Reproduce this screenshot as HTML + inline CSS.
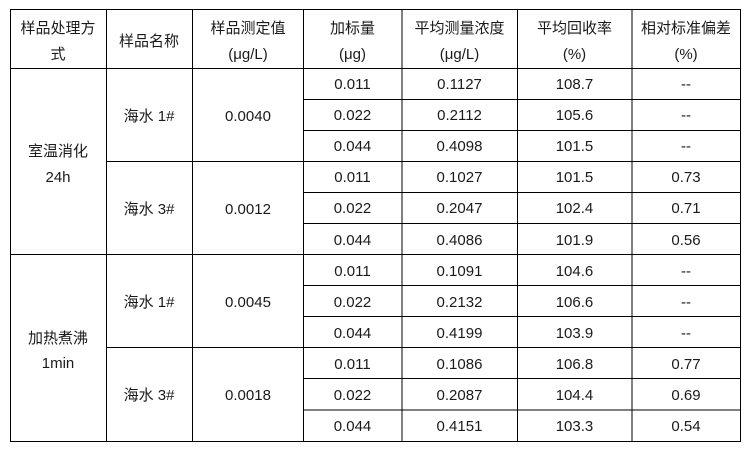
<!DOCTYPE html>
<html><head><meta charset="utf-8"><style>
html,body{margin:0;padding:0;background:#fff;width:755px;height:452px;overflow:hidden}
svg{display:block}
text{font-family:"Liberation Sans","Noto Sans CJK SC",sans-serif;font-size:15px;fill:#1a1a1a;text-anchor:middle}
</style></head><body>
<svg width="755" height="452" viewBox="0 0 755 452" xmlns="http://www.w3.org/2000/svg">
<g stroke="#000" stroke-width="1.2" fill="none" shape-rendering="crispEdges">
<rect x="10.5" y="9.5" width="730" height="432"/>
<line x1="10" y1="68.5" x2="741" y2="68.5"/>
<line x1="106.5" y1="9" x2="106.5" y2="442"/>
<line x1="192.5" y1="9" x2="192.5" y2="442"/>
<line x1="303.5" y1="9" x2="303.5" y2="442"/>
<line x1="402" y1="9" x2="402" y2="442"/>
<line x1="517.5" y1="9" x2="517.5" y2="442"/>
<line x1="632" y1="9" x2="632" y2="442"/>
<!-- row lines -->
<line x1="303" y1="99.5" x2="741" y2="99.5"/>
<line x1="303" y1="130.5" x2="741" y2="130.5"/>
<line x1="106" y1="161.5" x2="741" y2="161.5"/>
<line x1="303" y1="192.5" x2="741" y2="192.5"/>
<line x1="303" y1="223.5" x2="741" y2="223.5"/>
<line x1="10" y1="254.5" x2="741" y2="254.5"/>
<line x1="303" y1="285.5" x2="741" y2="285.5"/>
<line x1="303" y1="316.5" x2="741" y2="316.5"/>
<line x1="106" y1="347.5" x2="741" y2="347.5"/>
<line x1="303" y1="378.5" x2="741" y2="378.5"/>
<line x1="303" y1="410" x2="741" y2="410"/>
</g>
<!-- header -->
<text x="58" y="33">样品处理方</text>
<text x="58" y="59">式</text>
<text x="149" y="46">样品名称</text>
<text x="248" y="33">样品测定值</text>
<text x="248" y="59">(μg/L)</text>
<text x="352.5" y="33">加标量</text>
<text x="352.5" y="59">(μg)</text>
<text x="459.5" y="33">平均测量浓度</text>
<text x="459.5" y="59">(μg/L)</text>
<text x="574.5" y="33">平均回收率</text>
<text x="574.5" y="59">(%)</text>
<text x="686" y="33">相对标准偏差</text>
<text x="686" y="59">(%)</text>
<!-- group labels -->
<text x="58" y="156">室温消化</text>
<text x="58" y="182">24h</text>
<text x="58" y="343">加热煮沸</text>
<text x="58" y="368">1min</text>
<text x="149" y="121">海水 1#</text>
<text x="248" y="121">0.0040</text>
<text x="149" y="214">海水 3#</text>
<text x="248" y="214">0.0012</text>
<text x="149" y="307">海水 1#</text>
<text x="248" y="307">0.0045</text>
<text x="149" y="400">海水 3#</text>
<text x="248" y="400">0.0018</text>
<!-- rows -->
<g>
<text x="352.5" y="89">0.011</text><text x="459.5" y="89">0.1127</text><text x="574.5" y="89">108.7</text><text x="686" y="89">--</text>
<text x="352.5" y="120">0.022</text><text x="459.5" y="120">0.2112</text><text x="574.5" y="120">105.6</text><text x="686" y="120">--</text>
<text x="352.5" y="151">0.044</text><text x="459.5" y="151">0.4098</text><text x="574.5" y="151">101.5</text><text x="686" y="151">--</text>
<text x="352.5" y="182">0.011</text><text x="459.5" y="182">0.1027</text><text x="574.5" y="182">101.5</text><text x="686" y="182">0.73</text>
<text x="352.5" y="213">0.022</text><text x="459.5" y="213">0.2047</text><text x="574.5" y="213">102.4</text><text x="686" y="213">0.71</text>
<text x="352.5" y="245">0.044</text><text x="459.5" y="245">0.4086</text><text x="574.5" y="245">101.9</text><text x="686" y="245">0.56</text>
<text x="352.5" y="276">0.011</text><text x="459.5" y="276">0.1091</text><text x="574.5" y="276">104.6</text><text x="686" y="276">--</text>
<text x="352.5" y="307">0.022</text><text x="459.5" y="307">0.2132</text><text x="574.5" y="307">106.6</text><text x="686" y="307">--</text>
<text x="352.5" y="338">0.044</text><text x="459.5" y="338">0.4199</text><text x="574.5" y="338">103.9</text><text x="686" y="338">--</text>
<text x="352.5" y="369">0.011</text><text x="459.5" y="369">0.1086</text><text x="574.5" y="369">106.8</text><text x="686" y="369">0.77</text>
<text x="352.5" y="400">0.022</text><text x="459.5" y="400">0.2087</text><text x="574.5" y="400">104.4</text><text x="686" y="400">0.69</text>
<text x="352.5" y="431">0.044</text><text x="459.5" y="431">0.4151</text><text x="574.5" y="431">103.3</text><text x="686" y="431">0.54</text>
</g>
</svg>
</body></html>
